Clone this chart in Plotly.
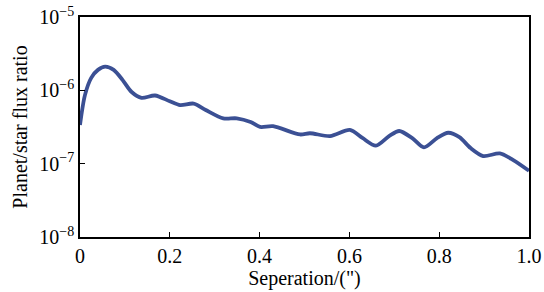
import plotly.graph_objects as go

sep = [0.0, 0.011, 0.025, 0.04, 0.056, 0.075, 0.095, 0.115, 0.137, 0.167, 0.2, 0.223, 0.253,
       0.28, 0.319, 0.349, 0.38, 0.401, 0.43, 0.49, 0.512, 0.557, 0.601, 0.629, 0.659, 0.689,
       0.711, 0.74, 0.766, 0.795, 0.82, 0.845, 0.87, 0.898, 0.935, 0.965, 1.0]
ratio = [3.37e-7, 8.6e-7, 1.48e-6, 1.9e-6, 2.1e-6, 1.9e-6, 1.38e-6, 9.5e-7, 7.9e-7, 8.5e-7, 7.1e-7,
         6.3e-7, 6.6e-7, 5.4e-7, 4.15e-7, 4.15e-7, 3.7e-7, 3.17e-7, 3.24e-7, 2.5e-7, 2.6e-7,
         2.38e-7, 2.88e-7, 2.24e-7, 1.76e-7, 2.39e-7, 2.79e-7, 2.23e-7, 1.67e-7, 2.23e-7, 2.64e-7,
         2.3e-7, 1.63e-7, 1.27e-7, 1.38e-7, 1.12e-7, 8.0e-8]

x_ticks = [0, 0.2, 0.4, 0.6, 0.8, 1.0]
x_ticktext = ["0", "0.2", "0.4", "0.6", "0.8", "1.0"]
y_ticks = [1e-8, 1e-7, 1e-6, 1e-5]
y_ticktext = ["10<sup>−8</sup>", "10<sup>−7</sup>", "10<sup>−6</sup>", "10<sup>−5</sup>"]

font = "Liberation Serif, Times New Roman, serif"

fig = go.Figure(go.Scatter(x=sep, y=ratio, mode="lines",
                           line=dict(color="#3b5094", width=3.8, shape="spline", smoothing=0.8)))

fig.update_layout(
    width=544, height=292,
    margin=dict(l=80, r=15, t=17, b=55),
    paper_bgcolor="white", plot_bgcolor="white",
    showlegend=False,
    font=dict(family=font, size=20, color="black"),
)
fig.update_xaxes(range=[0, 1.0], tickvals=x_ticks, ticktext=x_ticktext, automargin=False,
                 ticklabeloverflow="allow",
                 showline=True, linecolor="black", linewidth=1.5, mirror=True,
                 ticks="inside", ticklen=5, tickcolor="black", showgrid=False, zeroline=False,
                 title=dict(text="Seperation/(\")", font=dict(family=font, size=20), standoff=0),
                 tickfont=dict(family=font, size=20))
fig.update_yaxes(type="log", range=[-8, -5], tickvals=y_ticks, ticktext=y_ticktext, automargin=False,
                 ticklabeloverflow="allow",
                 showline=True, linecolor="black", linewidth=1.5, mirror=True,
                 ticks="inside", ticklen=5, tickcolor="black", showgrid=False, zeroline=False,
                 title=dict(text="Planet/star flux ratio", font=dict(family=font, size=20), standoff=6),
                 tickfont=dict(family=font, size=20))

fig.write_html("out.html", config={"displayModeBar": False},
               post_script="document.body.style.margin='0';document.body.style.overflow='hidden';")
